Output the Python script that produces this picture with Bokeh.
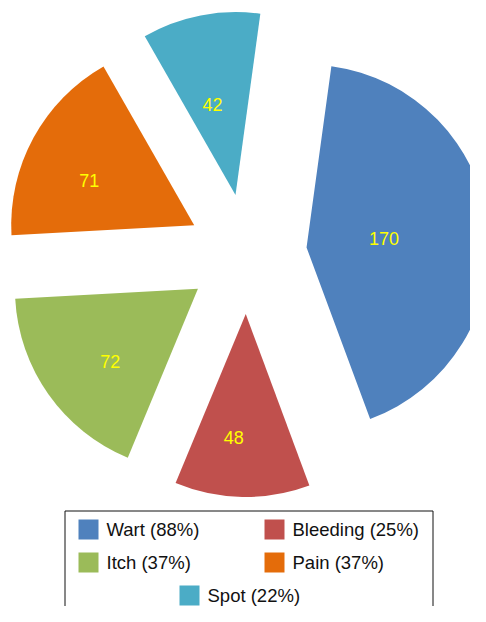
import math
from bokeh.plotting import figure
from bokeh.models import Range1d, ColumnDataSource
from bokeh.core.properties import value
from bokeh.embed import file_html
from bokeh.resources import INLINE

# ---- data ----
categories = ["Wart", "Bleeding", "Itch", "Pain", "Spot"]
counts = [170, 48, 72, 71, 42]
percent_labels = ["88%", "25%", "37%", "37%", "22%"]
colors = ["#4F81BD", "#C0504D", "#9BBB59", "#E46C0A", "#4BACC6"]

# ---- layout / style ----
PAGE_W, PAGE_H = 486, 622
MARGIN = 8
FIG_W, FIG_H = PAGE_W - 2 * MARGIN, PAGE_H - 2 * MARGIN
CX, CY = 246.4, PAGE_H - 253.5       # pie centre (reference coords, y up)
RADIUS = 183
EXPLODE = 60
START_DEG = 82.2                      # first slice starts here, going clockwise
label_r = [138, 184, 174, 174, 153]   # label distance from pie centre
label_shift = [0.0, -3.0, 3.0, 3.5, 2.0]  # label angle nudge (deg)
FONT = "Liberation Sans"

p = figure(width=FIG_W, height=FIG_H, output_backend="svg", toolbar_location=None,
           x_range=Range1d(0, FIG_W), y_range=Range1d(PAGE_H - FIG_H, PAGE_H),
           x_axis_type=None, y_axis_type=None, min_border=0, title=None)
p.outline_line_color = None
p.grid.visible = False
p.background_fill_color = "white"
p.border_fill_color = "white"

total = sum(counts)
xs, ys, a0, a1, lx, ly, txt = [], [], [], [], [], [], []
cum = 0
for i, c in enumerate(counts):
    hi = START_DEG - 360.0 * cum / total
    cum += c
    lo = START_DEG - 360.0 * cum / total
    bis = math.radians((hi + lo) / 2)
    xs.append(CX + EXPLODE * math.cos(bis))
    ys.append(CY + EXPLODE * math.sin(bis))
    a0.append(math.radians(lo))
    a1.append(math.radians(hi))
    la = math.radians((hi + lo) / 2 + label_shift[i])
    lx.append(CX + label_r[i] * math.cos(la))
    ly.append(CY + label_r[i] * math.sin(la))
    txt.append(str(c))

src = ColumnDataSource(dict(x=xs, y=ys, start=a0, end=a1, color=colors,
                            lx=lx, ly=ly, txt=txt))
p.wedge(x="x", y="y", radius=RADIUS, start_angle="start", end_angle="end",
        direction="anticlock", fill_color="color", line_color=None, source=src)
p.text(x="lx", y="ly", text="txt", source=src, text_color="#FFFF00",
       text_font=value(FONT), text_font_size="18px",
       text_align="center", text_baseline="middle")

# ---- legend (drawn manually) ----
BOX_L, BOX_R, BOX_T = 64.5, 432.5, PAGE_H - 510.5
p.quad(left=[BOX_L], right=[BOX_R], top=[BOX_T], bottom=[PAGE_H - 700],
       fill_color=None, line_color="#111111", line_width=1)
col_x = [78, 264]
single_x = 179
row_y0, row_dy = 529, 33
SQ = 20
sx, sy, tx, tt = [], [], [], []
n = len(categories)
for i, cat in enumerate(categories):
    row, col = divmod(i, 2)
    if i == n - 1 and n % 2 == 1:
        left = single_x
    else:
        left = col_x[col]
    yc = PAGE_H - (row_y0 + row * row_dy)
    sx.append(left + SQ / 2)
    sy.append(yc)
    tx.append(left + SQ + 8)
    tt.append(f"{cat} ({percent_labels[i]})")
lsrc = ColumnDataSource(dict(sx=sx, sy=sy, tx=tx, tt=tt, color=colors))
p.rect(x="sx", y="sy", width=SQ, height=SQ, fill_color="color", line_color=None, source=lsrc)
p.text(x="tx", y="sy", text="tt", source=lsrc, text_color="#111111",
       text_font=value(FONT), text_font_size="18.5px",
       text_align="left", text_baseline="middle")

open("out.html", "w").write(file_html(p, INLINE))
